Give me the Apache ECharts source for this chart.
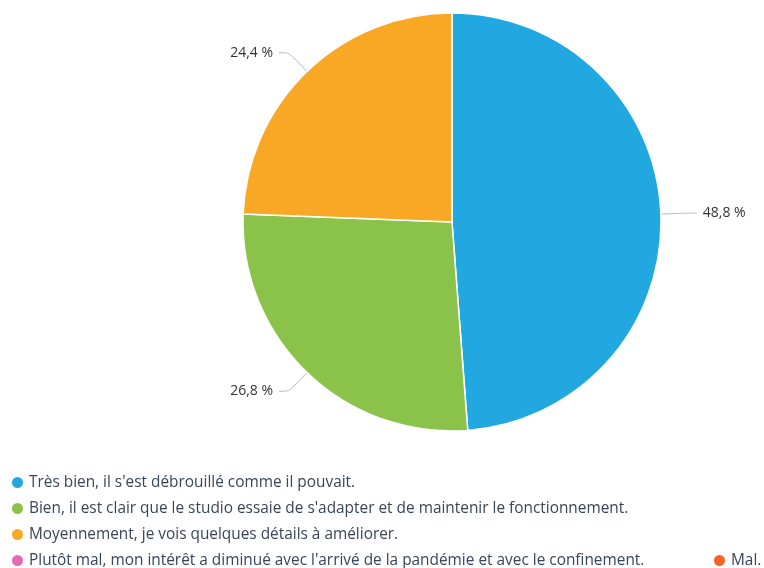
<!DOCTYPE html>
<html><head><meta charset="utf-8">
<script src="https://cdn.jsdelivr.net/npm/echarts@6/dist/echarts.min.js"></script>
<style>html,body{margin:0;padding:0;background:#fff}#c{width:764px;height:568px}</style>
</head><body><div id="c"></div>
<script>
const categories = [
  "Très bien, il s'est débrouillé comme il pouvait.",
  "Bien, il est clair que le studio essaie de s'adapter et de maintenir le fonctionnement.",
  "Moyennement, je vois quelques détails à améliorer.",
  "Plutôt mal, mon intérêt a diminué avec l'arrivé de la pandémie et avec le confinement.",
  "Mal."
];
const values = [48.8, 26.8, 24.4, 0, 0];
const colors = ['#21a8e0', '#8bc34a', '#f9a825', '#e56ab3', '#f26522'];

const data = categories.map((n, i) => {
  const d = { name: n, value: values[i], itemStyle: { color: colors[i] } };
  if (values[i] === 0) { d.label = { show: false }; d.labelLine = { show: false }; }
  return d;
});

const legendPos = [[10, 475], [10, 501], [10, 527], [10, 553], [712, 553]];
const legendText = { fontFamily: 'Open Sans', fontSize: 15.4, color: '#3a4556' };
const legends = categories.map((n, i) => ({
  left: legendPos[i][0], top: legendPos[i][1], padding: 0,
  icon: 'circle', itemWidth: 13, itemHeight: 13,
  textStyle: legendText, data: [n]
}));

const chart = echarts.init(document.getElementById('c'));
chart.setOption({
  animation: false,
  legend: legends,
  series: [{
    type: 'pie',
    center: [452, 222],
    radius: [0, 209],
    startAngle: 90,
    clockwise: true,
    avoidLabelOverlap: false,
    itemStyle: { borderColor: '#fff', borderWidth: 1.5 },
    label: {
      formatter: p => p.value.toFixed(1).replace('.', ',') + ' %',
      fontFamily: 'Open Sans', fontSize: 14, color: '#333', distanceToLabelLine: 6,
      padding: [5, 0, 0, 0]
    },
    labelLine: { length: 26, length2: 10, smooth: 0.3, lineStyle: { color: '#b5b5b5', width: 1 } },
    data: data
  }]
});
</script></body></html>
